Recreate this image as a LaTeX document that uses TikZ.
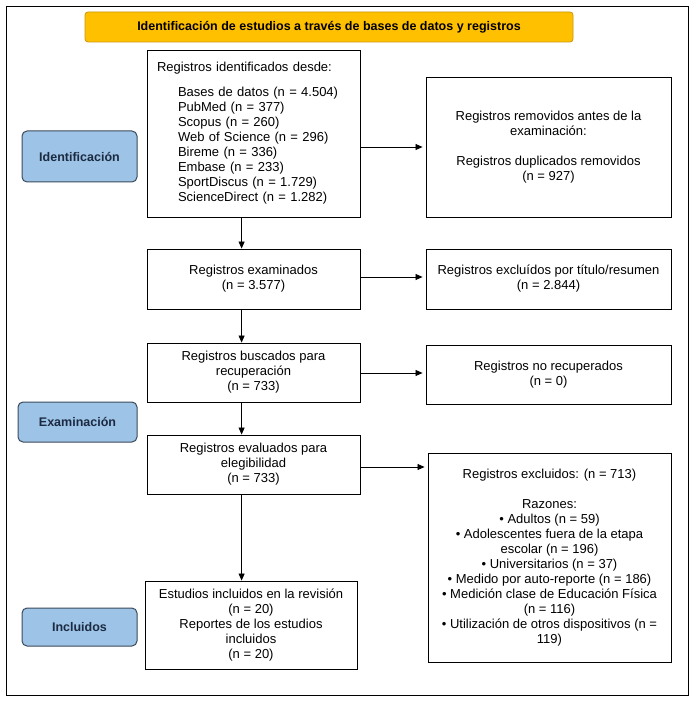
\documentclass[tikz,border=0pt]{standalone}
\usepackage{fontspec}
\setmainfont{Liberation Sans}
\usetikzlibrary{arrows.meta}
\definecolor{gold}{HTML}{FFC000}
\definecolor{goldb}{HTML}{C8960A}
\definecolor{sideblue}{HTML}{9DC3E6}
\definecolor{sideb}{HTML}{3B4A5A}
\definecolor{navy}{HTML}{1B2A41}
\begin{document}
\begin{tikzpicture}[x=1pt,y=-1pt,
  every node/.style={font=\fontsize{13}{15}\selectfont},
  box/.style={draw=black, line width=0.9pt, inner sep=0pt, align=center},
  side/.style={draw=sideb, fill=sideblue, rounded corners=5pt, line width=1pt, inner sep=0pt,
    font=\fontsize{12.5}{15}\selectfont\bfseries, text=navy},
  arr/.style={-{Triangle[length=7pt,width=6pt]}, line width=0.8pt}]
\useasboundingbox (0,0) rectangle (695,703);
\draw[line width=0.9pt] (6,6) rectangle (688,695);

\node[draw=goldb, fill=gold, rounded corners=3pt, line width=0.8pt, minimum width=488pt, minimum height=30pt,
  inner sep=0pt, font=\fontsize{12.5}{15}\selectfont\bfseries] (title) at (329,27)
  {Identificación de estudios a través de bases de datos y registros};

\node[side, minimum width=115pt, minimum height=51pt] (idf) at (79.5,156.5) {Identificación};
\node[side, minimum width=119pt, minimum height=40pt] (exl) at (77.5,422) {Examinación};
\node[side, minimum width=115pt, minimum height=38pt] (inl) at (79.5,627) {Incluidos};

\node[box, minimum width=213pt, minimum height=167pt, text width=193pt, align=left] (b1) at (253.5,133.5)
  {Registros identificados desde:\\[10pt]
   \hspace*{21pt}Bases de datos (n = 4.504)\\
   \hspace*{21pt}PubMed (n = 377)\\
   \hspace*{21pt}Scopus (n = 260)\\
   \hspace*{21pt}Web of Science (n = 296)\\
   \hspace*{21pt}Bireme (n = 336)\\
   \hspace*{21pt}Embase (n = 233)\\
   \hspace*{21pt}SportDiscus (n = 1.729)\\
   \hspace*{21pt}ScienceDirect (n = 1.282)};

\node[box, minimum width=245pt, minimum height=140pt] (rem) at (548.5,147)
  {Registros removidos antes de la\\examinación:\\[15pt]Registros duplicados removidos\\(n = 927)};

\node[box, minimum width=213pt, minimum height=60pt] (exa) at (253.5,279)
  {Registros examinados\\(n = 3.577)};
\node[box, minimum width=245pt, minimum height=60pt] (ex1) at (548.5,279)
  {Registros excluídos por título/resumen\\(n = 2.844)};

\node[box, minimum width=213pt, minimum height=59pt] (bus) at (253.5,372.5)
  {Registros buscados para\\recuperación\\(n = 733)};
\node[box, minimum width=245pt, minimum height=59pt] (nre) at (548.5,374.5)
  {Registros no recuperados\\(n = 0)};

\node[box, minimum width=213pt, minimum height=59pt] (eva) at (253.5,464.5)
  {Registros evaluados para\\elegibilidad\\(n = 733)};
\node[box, minimum width=243pt, minimum height=209pt] (ex2) at (549.5,557.5)
  {Registros excluidos: (n = 713)\\[15pt]
   Razones:\\
   • Adultos (n = 59)\\
   • Adolescentes fuera de la etapa\\
   escolar (n = 196)\\
   • Universitarios (n = 37)\\
   • Medido por auto-reporte (n = 186)\\
   • Medición clase de Educación Física\\
   (n = 116)\\
   • Utilización de otros dispositivos (n =\\
   119)};

\node[box, minimum width=212pt, minimum height=88pt] (est) at (251,625)
  {Estudios incluidos en la revisión\\(n = 20)\\Reportes de los estudios\\incluidos\\(n = 20)};

\coordinate (ax) at (241.6,0);
\draw[arr] (b1.south -| ax) -- (exa.north -| ax);
\draw[arr] (exa.south -| ax) -- (bus.north -| ax);
\draw[arr] (bus.south -| ax) -- (eva.north -| ax);
\draw[arr] (eva.south -| ax) -- (est.north -| ax);

\draw[arr, shorten >=3pt] (b1.east |- rem.west) -- (rem.west);
\draw[arr, shorten >=3pt] (exa.east |- 0,277) -- (ex1.west |- 0,277);
\draw[arr, shorten >=3pt] (bus.east |- 0,373) -- (nre.west |- 0,373);
\draw[arr, shorten >=3pt] (eva.east |- 0,467) -- (ex2.west |- 0,467);
\end{tikzpicture}
\end{document}
